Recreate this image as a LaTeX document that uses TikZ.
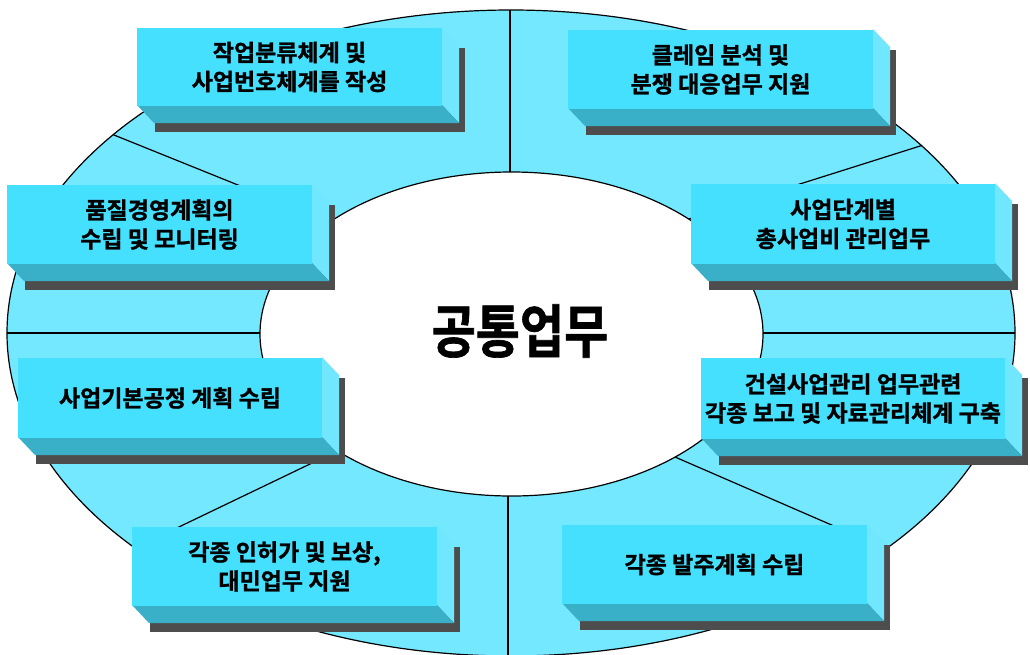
\documentclass[tikz,border=0pt]{standalone}
\usepackage{fontspec}
\usepackage{graphicx}
\usetikzlibrary{calc}
\newfontfamily\kr{Noto Sans CJK KR}[UprightFont=* Bold, FakeBold=1.2]
\definecolor{ringc}{HTML}{73E8FF}
\definecolor{frontc}{HTML}{46E0FF}
\definecolor{sidec}{HTML}{70E6FF}
\definecolor{bottomc}{HTML}{3AB0C8}
\definecolor{shadowc}{HTML}{4D4D4D}
\tikzset{
  ringline/.style={draw=black, line width=1.2pt},
  frontbox/.style={fill=frontc, inner sep=0pt, align=center, text=black,
    font=\kr\fontsize{23}{29}\selectfont},
}
\newcommand\drawblock[6]{%
  \fill[shadowc] (#1+18,#2+21) rectangle (#3+23,#4+27);
  \fill[sidec] (#3,#2) -- (#3+17,#2+18) -- (#3+17,#4+18) -- (#3,#4) -- cycle;
  \fill[bottomc] (#1,#4) -- (#3,#4) -- (#3+17,#4+18) -- (#1+17,#4+18) -- cycle;
  \node[frontbox, minimum width={(#3-#1)*1pt}, minimum height={(#4-#2)*1pt}]
    (#5) at ({(#1+#3)/2},{(#2+#4)/2+1}) {#6};
}
\begin{document}
\begin{tikzpicture}[x=1pt,y=-1pt]
\useasboundingbox (0,0) rectangle (1030,654);
% outer ring
\fill[ringc] (511,333) ellipse [x radius=504, y radius=323];
\begin{scope}
  \clip (511,333) ellipse [x radius=504, y radius=323];
  \draw[ringline] (510,-20) -- (510,250);
  \draw[ringline] (508,420) -- (508,700);
  \draw[ringline] (-20,333) -- (1050,333);
  \draw[ringline] ($(114,135)!-1!(233,183)$) -- ($(114,135)!2.2!(233,183)$);
  \draw[ringline] ($(917,147)!-1!(803,183)$) -- ($(917,147)!2.5!(803,183)$);
  \draw[ringline] ($(310,464)!-1!(183,525)$) -- ($(310,464)!2!(183,525)$);
  \draw[ringline] ($(675,457)!-1!(827,523)$) -- ($(675,457)!2!(827,523)$);
\end{scope}
\draw[ringline] (511,333) ellipse [x radius=504, y radius=323];
\path[ringline, fill=white] (511.5,334) ellipse [x radius=251.5, y radius=162];
% blocks
\drawblock{137}{27}{442}{105}{b1}{작업분류체계 및\\사업번호체계를 작성}
\drawblock{568}{29}{873}{108}{b2}{클레임 분석 및\\분쟁 대응업무 지원}
\drawblock{7}{184}{312}{263}{b3}{품질경영계획의\\수립 및 모니터링}
\drawblock{691}{183}{995}{263}{b4}{사업단계별\\총사업비 관리업무}
\drawblock{18}{357}{322}{437}{b5}{사업기본공정 계획 수립}
\drawblock{701}{357}{1005}{438}{b6}{건설사업관리 업무관련\\각종 보고 및 자료관리체계 구축}
\drawblock{132}{526}{437}{605}{b7}{각종 인허가 및 보상,\\대민업무 지원}
\drawblock{562}{524}{867}{603}{b8}{각종 발주계획 수립}
% center
\node[text=black] (center) at (520,331) {\kr\fontsize{48}{48}\selectfont\scalebox{1}[1.2]{공통업무}};
\end{tikzpicture}
\end{document}
